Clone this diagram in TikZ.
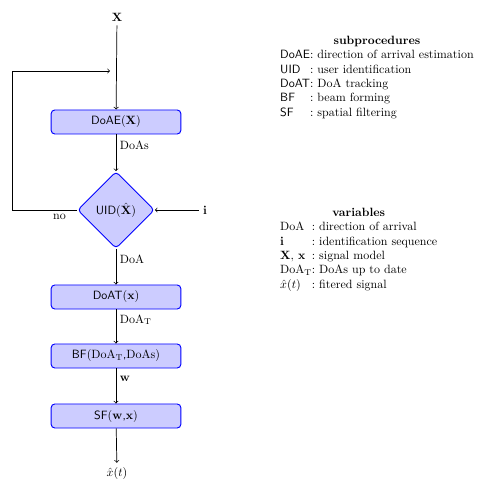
\documentclass[tikz,border=0pt]{standalone}
\usepackage{amsmath}
\usepackage{amsfonts}
\usetikzlibrary{shapes.geometric}

\begin{document}
\begin{tikzpicture}[x=0.833pt,y=0.833pt,
  procbox/.style={draw=drawColor,fill=fillColor,thick,rounded corners=3pt,minimum width=108pt,minimum height=20pt,inner sep=0pt,font=\sffamily},
  decision/.style={diamond,draw=drawColor,fill=fillColor,thick,rounded corners=3pt,minimum width=64pt,minimum height=64pt,inner sep=0pt,font=\sffamily},
  flow/.style={->,semithick},
  flowlabel/.style={anchor=west,inner sep=3pt}]
\definecolor{bgColor}{RGB}{255,255,255}
\path[use as bounding box,fill=bgColor] (0,0) rectangle (498,500);
\definecolor{drawColor}{RGB}{0,0,255}
\definecolor{fillColor}{RGB}{204,204,255}

% processing chain
\node (input) at (117,483) {$\mathbf{X}$};
\node[procbox] (doae) at (116,378) {DoAE$(\mathbf{X})$};
\node[decision] (uid) at (116,290) {UID$(\hat{\mathbf{X}})$};
\node[procbox] (doat) at (116,203) {DoAT$(\mathbf{x})$};
\node[procbox] (bf) at (116,144) {BF$(\mathrm{DoA_T}$,$\mathrm{DoAs})$};
\node[procbox] (sf) at (116,84) {SF$(\mathbf{w}$,$\mathbf{x})$};
\node (output) at (117,27) {$\hat{x}(t)$};
\node (ident) at (205,290) {$\mathbf{i}$};
\coordinate (loop) at (110,429);

\draw[flow] (input) -- (doae);
\draw[flow] (doae) -- node[flowlabel,pos=0.3] {DoAs} (uid);
\draw[flow] (uid) -- node[flowlabel,pos=0.3] {DoA} (doat);
\draw[flow] (doat) -- node[flowlabel,pos=0.3] {DoA$_\mathrm{T}$} (bf);
\draw[flow] (bf) -- node[flowlabel,pos=0.3] {$\mathbf{w}$} (sf);
\draw[flow] (sf) -- (output);
\draw[flow] (ident) -- (uid);
\draw[flow] (uid.west) -- node[below,pos=0.27] {no} (12,290) |- (loop);

% legend
\node[anchor=north west,inner sep=0pt] (subproc) at (280,466) {%
\begin{tabular}{@{}l@{:\ }l@{}}
\multicolumn{2}{c}{\textbf{subprocedures}}\\
\textsf{DoAE} & direction of arrival estimation\\
\textsf{UID} & user identification\\
\textsf{DoAT} & DoA tracking\\
\textsf{BF} & beam forming\\
\textsf{SF} & spatial filtering
\end{tabular}};

\node[anchor=north west,inner sep=0pt] (vars) at (280,294) {%
\begin{tabular}{@{}l@{:\ }l@{}}
\multicolumn{2}{c}{\textbf{variables}}\\
DoA & direction of arrival\\
$\mathbf{i}$ & identification sequence\\
$\mathbf{X}$, $\mathbf{x}$ & signal model\\
DoA$_\mathrm{T}$ & DoAs up to date\\
$\hat{x}(t)$ & fitered signal
\end{tabular}};
\end{tikzpicture}
\end{document}
